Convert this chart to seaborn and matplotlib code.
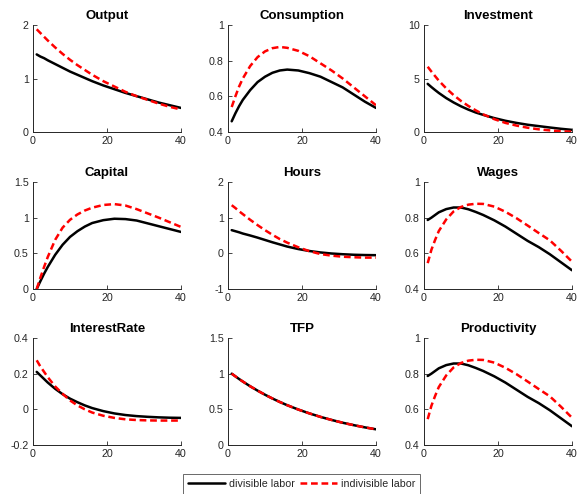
import matplotlib
matplotlib.use("Agg")
import matplotlib.pyplot as plt
import seaborn as sns

# impulse responses (periods 1..40)
periods = [1, 2, 3, 4, 6, 8, 10, 12, 14, 16, 19, 22, 25, 28, 31, 34, 37, 40]

output_div = [1.45, 1.41, 1.38, 1.34, 1.27, 1.20, 1.13, 1.07, 1.01, 0.95, 0.87, 0.80, 0.73, 0.67, 0.61, 0.55, 0.50, 0.45]
output_ind = [1.92, 1.85, 1.78, 1.71, 1.58, 1.46, 1.35, 1.25, 1.16, 1.07, 0.95, 0.85, 0.75, 0.67, 0.60, 0.53, 0.47, 0.42]

cons_div = [0.46, 0.505, 0.545, 0.58, 0.635, 0.68, 0.71, 0.732, 0.745, 0.75, 0.745, 0.73, 0.71, 0.68, 0.65, 0.61, 0.57, 0.535]
cons_ind = [0.54, 0.60, 0.655, 0.70, 0.77, 0.82, 0.852, 0.87, 0.877, 0.872, 0.855, 0.825, 0.785, 0.745, 0.70, 0.65, 0.60, 0.55]

inv_div = [4.5, 4.2, 3.92, 3.65, 3.17, 2.76, 2.4, 2.09, 1.82, 1.6, 1.3, 1.05, 0.85, 0.68, 0.55, 0.42, 0.30, 0.20]
inv_ind = [6.1, 5.65, 5.22, 4.8, 4.08, 3.45, 2.9, 2.43, 2.02, 1.65, 1.2, 0.85, 0.60, 0.40, 0.25, 0.15, 0.07, 0.03]

cap_div = [0.0, 0.11, 0.215, 0.31, 0.48, 0.62, 0.73, 0.81, 0.875, 0.925, 0.965, 0.985, 0.98, 0.96, 0.92, 0.88, 0.84, 0.80]
cap_ind = [0.0, 0.16, 0.31, 0.45, 0.69, 0.86, 0.97, 1.045, 1.10, 1.14, 1.178, 1.19, 1.17, 1.12, 1.06, 1.00, 0.935, 0.87]

hours_div = [0.65, 0.62, 0.59, 0.555, 0.50, 0.44, 0.375, 0.31, 0.25, 0.19, 0.12, 0.065, 0.025, -0.005, -0.025, -0.04, -0.048, -0.052]
hours_ind = [1.35, 1.27, 1.18, 1.10, 0.94, 0.79, 0.65, 0.52, 0.40, 0.30, 0.17, 0.06, -0.02, -0.065, -0.095, -0.11, -0.12, -0.12]

wage_div = [0.787, 0.80, 0.815, 0.83, 0.848, 0.857, 0.857, 0.847, 0.832, 0.815, 0.785, 0.75, 0.71, 0.67, 0.635, 0.595, 0.55, 0.505]
wage_ind = [0.545, 0.62, 0.675, 0.725, 0.79, 0.835, 0.86, 0.873, 0.878, 0.877, 0.862, 0.833, 0.797, 0.756, 0.714, 0.673, 0.615, 0.553]

rate_div = [0.21, 0.19, 0.17, 0.15, 0.115, 0.085, 0.06, 0.04, 0.022, 0.007, -0.01, -0.023, -0.032, -0.038, -0.042, -0.045, -0.047, -0.048]
rate_ind = [0.275, 0.24, 0.21, 0.18, 0.128, 0.087, 0.05, 0.022, 0.0, -0.018, -0.036, -0.048, -0.056, -0.06, -0.062, -0.063, -0.063, -0.063]

tfp_div = [1.0, 0.962, 0.925, 0.89, 0.823, 0.762, 0.705, 0.652, 0.603, 0.558, 0.497, 0.443, 0.394, 0.351, 0.312, 0.278, 0.247, 0.22]
tfp_ind = [1.0, 0.962, 0.925, 0.89, 0.823, 0.762, 0.705, 0.652, 0.603, 0.558, 0.497, 0.443, 0.394, 0.351, 0.312, 0.278, 0.247, 0.22]

prod_div = [0.787, 0.80, 0.815, 0.83, 0.848, 0.857, 0.857, 0.847, 0.832, 0.815, 0.785, 0.75, 0.71, 0.67, 0.635, 0.595, 0.55, 0.505]
prod_ind = [0.545, 0.62, 0.675, 0.725, 0.79, 0.835, 0.86, 0.873, 0.878, 0.877, 0.862, 0.833, 0.797, 0.756, 0.714, 0.673, 0.615, 0.553]

titles = ["Output", "Consumption", "Investment", "Capital", "Hours", "Wages",
          "InterestRate", "TFP", "Productivity"]
series = [(output_div, output_ind), (cons_div, cons_ind), (inv_div, inv_ind),
          (cap_div, cap_ind), (hours_div, hours_ind), (wage_div, wage_ind),
          (rate_div, rate_ind), (tfp_div, tfp_ind), (prod_div, prod_ind)]
yticks = [[0, 1, 2], [0.4, 0.6, 0.8, 1], [0, 5, 10],
          [0, 0.5, 1, 1.5], [-1, 0, 1, 2], [0.4, 0.6, 0.8, 1],
          [-0.2, 0, 0.2, 0.4], [0, 0.5, 1, 1.5], [0.4, 0.6, 0.8, 1]]

sns.set_theme(style="ticks")
plt.rcParams["font.family"] = ["Liberation Sans", "DejaVu Sans"]

W, H = 580, 494
fig = plt.figure(figsize=(W / 100, H / 100), dpi=100)

lefts = [33, 228, 424]
tops = [25, 182, 338]
aw, ah = 148, 107
gray = "#262626"

for i, (title, (div, ind), yt) in enumerate(zip(titles, series, yticks)):
    r, c = divmod(i, 3)
    ax = fig.add_axes([lefts[c] / W, 1 - (tops[r] + ah) / H, aw / W, ah / H])
    sns.lineplot(x=periods, y=div, ax=ax, color="black", linewidth=1.8,
                 label="divisible labor", legend=False)
    sns.lineplot(x=periods, y=ind, ax=ax, color="red", linewidth=1.8,
                 linestyle=(0, (2.7, 1.5)), label="indivisible labor", legend=False)
    ax.set_xlim(0, 40)
    ax.set_xticks([0, 20, 40])
    ax.set_ylim(yt[0], yt[-1])
    ax.set_yticks(yt)
    ax.set_yticklabels([f"{v:g}" for v in yt])
    ax.set_title(title, fontsize=9.5, fontweight="bold", pad=4, color="black")
    ax.tick_params(direction="in", length=3, width=0.6, labelsize=7.7,
                   colors=gray, pad=3)
    for side in ["top", "right"]:
        ax.spines[side].set_visible(False)
    for side in ["left", "bottom"]:
        ax.spines[side].set_color(gray)
        ax.spines[side].set_linewidth(0.7)
    if i == 0:
        handles, labels = ax.get_legend_handles_labels()

leg = fig.legend(handles, labels, loc="upper center", ncol=2,
                 bbox_to_anchor=(301.5 / W, 1 - 474 / H), fontsize=7.7,
                 frameon=True, fancybox=False, handlelength=3.5,
                 handletextpad=0.35, columnspacing=0.5, borderpad=0.45,
                 borderaxespad=0)
leg.get_frame().set_edgecolor("#262626")
leg.get_frame().set_linewidth(0.6)

fig.savefig("out.png", dpi=100)
